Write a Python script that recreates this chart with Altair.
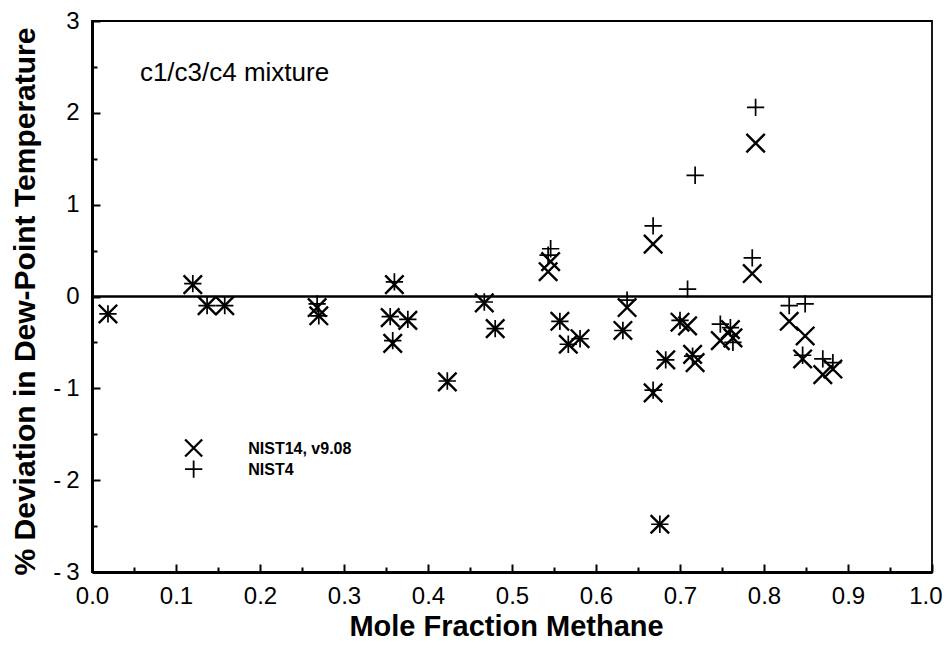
import altair as alt
import pandas as pd

# ---- data ----
mole_fraction = [0.019, 0.120, 0.137, 0.158, 0.268, 0.270, 0.360, 0.355, 0.376, 0.358,
                 0.423, 0.467, 0.480, 0.543, 0.546, 0.557, 0.567, 0.581, 0.632, 0.637,
                 0.668, 0.668, 0.676, 0.683, 0.700, 0.709, 0.718, 0.715, 0.748, 0.760,
                 0.763, 0.790, 0.786, 0.830, 0.849, 0.846, 0.870, 0.882]
nist14 = [-0.19, 0.13, -0.10, -0.10, -0.12, -0.21, 0.13, -0.23, -0.26, -0.51,
          -0.93, -0.07, -0.35, 0.27, 0.38, -0.27, -0.52, -0.46, -0.37, -0.12,
          0.57, -1.05, -2.48, -0.69, -0.28, -0.32, -0.72, -0.63, -0.48, -0.36,
          -0.45, 1.67, 0.25, -0.27, -0.43, -0.68, -0.85, -0.79]
nist4 = [-0.19, 0.14, -0.10, -0.10, -0.08, -0.21, 0.16, -0.22, -0.25, -0.48,
         -0.92, -0.06, -0.35, 0.45, 0.52, -0.27, -0.52, -0.46, -0.37, -0.04,
         0.77, -1.02, -2.48, -0.69, -0.26, 0.08, 1.32, -0.65, -0.30, -0.34,
         -0.50, 2.06, 0.42, -0.10, -0.08, -0.64, -0.68, -0.72]

legend_labels = ["NIST14, v9.08", "NIST4"]
legend_sym_x = [0.121, 0.121]
legend_sym_y = [-1.65, -1.88]
legend_txt_x = [0.186, 0.186]
legend_txt_y = [-1.72, -1.94]

note_text = ["c1/c3/c4 mixture"]
note_x = [0.057]
note_y = [2.35]

x_ticks = [round(i / 10, 1) for i in range(11)]
x_ticks_all = [round(i / 20, 2) for i in range(21)]
y_ticks = [-3, -2, -1, 0, 1, 2, 3]
y_ticks_all = [v / 2 for v in range(-6, 7)]

X_PATH = "M-1,-1L1,1M-1,1L1,-1"
PLUS_PATH = "M-1,0L1,0M0,-1L0,1"
FONT = "Liberation Sans"
W, H = 840, 551

df = pd.DataFrame({"x": mole_fraction, "n14": nist14, "n4": nist4})
leg14 = pd.DataFrame({"x": legend_sym_x[:1], "y": legend_sym_y[:1]})
leg4 = pd.DataFrame({"x": legend_sym_x[1:], "y": legend_sym_y[1:]})
legtxt = pd.DataFrame({"x": legend_txt_x, "y": legend_txt_y, "t": legend_labels})
note = pd.DataFrame({"x": note_x, "y": note_y, "t": note_text})
zero = pd.DataFrame({"x": [0.5], "y": [0]})


def xsc():
    return alt.Scale(domain=[0, 1], nice=False, zero=False)


def ysc():
    return alt.Scale(domain=[-3, 3], nice=False, zero=False)


x_axis_main = alt.Axis(
    values=x_ticks, format=".1f", ticks=False, tickSize=0, grid=False,
    domainWidth=3, domainColor="black", labelFlush=False, labelOverlap=False,
    labelAlign={"condition": {"test": "datum.value >= 0.99", "value": "right"}, "value": "center"},
    labelOffset={"condition": {"test": "datum.value >= 0.99", "value": 10}, "value": 0},
    labelFont=FONT, labelFontSize=24, labelColor="black", labelPadding=12,
    title="Mole Fraction Methane", titleFont=FONT, titleFontSize=29,
    titleFontWeight="bold", titleColor="black", titleX=414, titleY=63,
    titleBaseline="alphabetic", titleAlign="center",
)
y_axis_main = alt.Axis(
    values=y_ticks, ticks=False, tickSize=0, grid=False,
    domainWidth=3, domainColor="black", labelFlush=False, labelOverlap=False,
    labelExpr="datum.value < 0 ? '-\u2009' + abs(datum.value) : '' + datum.value",
    labelFont=FONT, labelFontSize=24, labelColor="black", labelPadding=13,
    title="% Deviation in Dew-Point Temperature", titleFont=FONT,
    titleFontSize=30, titleFontWeight="bold", titleColor="black",
    titleX=-58, titleY=280, titleAngle=-90, titleBaseline="alphabetic",
    titleAlign="center",
)

x_axis_ticks = alt.Axis(
    orient="top", offset=-H, values=x_ticks_all, labels=False, domain=False,
    grid=False, title=None, tickColor="black", tickWidth=2,
    tickSize={"condition": {"test": "round(datum.value * 20) % 2 == 0", "value": 8}, "value": 5},
)
y_axis_ticks = alt.Axis(
    orient="right", offset=-W, values=y_ticks_all, labels=False, domain=False,
    grid=False, title=None, tickColor="black", tickWidth=2,
    tickSize={"condition": {"test": "round(datum.value * 2) % 2 == 0", "value": 8}, "value": 5},
)


def enc(chart, ycol, xaxis, yaxis, text=None):
    kw = dict(
        x=alt.X("x:Q", scale=xsc(), axis=xaxis),
        y=alt.Y(ycol, scale=ysc(), axis=yaxis),
    )
    if text is not None:
        kw["text"] = text
    return chart.encode(**kw)


zero_rule = alt.Chart(zero).mark_rule(color="black", strokeWidth=2.5).encode(
    y=alt.Y("y:Q", scale=ysc(), axis=y_axis_main)
)

x_pts = enc(alt.Chart(df).mark_point(
    shape=X_PATH, filled=False, size=340, strokeWidth=2.4, color="black", opacity=1
), "n14:Q", x_axis_main, y_axis_main)

leg_x = enc(alt.Chart(leg14).mark_point(
    shape=X_PATH, filled=False, size=290, strokeWidth=2.3, color="black", opacity=1
), "y:Q", x_axis_main, y_axis_main)
leg_p = enc(alt.Chart(leg4).mark_point(
    shape=PLUS_PATH, filled=False, size=300, strokeWidth=1.8, color="black", opacity=1
), "y:Q", x_axis_main, y_axis_main)
leg_t = enc(alt.Chart(legtxt).mark_text(
    align="left", baseline="alphabetic", font=FONT, fontSize=16,
    fontWeight="bold", color="black"
), "y:Q", x_axis_main, y_axis_main, text="t:N")
note_t = enc(alt.Chart(note).mark_text(
    align="left", baseline="alphabetic", font=FONT, fontSize=26, color="black"
), "y:Q", x_axis_main, y_axis_main, text="t:N")

main = alt.layer(x_pts, zero_rule, leg_x, leg_p, leg_t, note_t)

plus_pts = enc(alt.Chart(df).mark_point(
    shape=PLUS_PATH, filled=False, size=300, strokeWidth=1.7, color="black", opacity=1
), "n4:Q", x_axis_ticks, y_axis_ticks)

chart = alt.layer(main, plus_pts).resolve_scale(
    x="independent", y="independent"
).properties(
    width=W, height=H,
    autosize=alt.AutoSizeParams(type="none"),
    padding={"left": 84, "top": 13, "right": 11, "bottom": 71},
    background="white",
).configure_view(stroke="black", strokeWidth=1.8)

chart.save("out.html", embed_options={"renderer": "svg", "actions": False})
